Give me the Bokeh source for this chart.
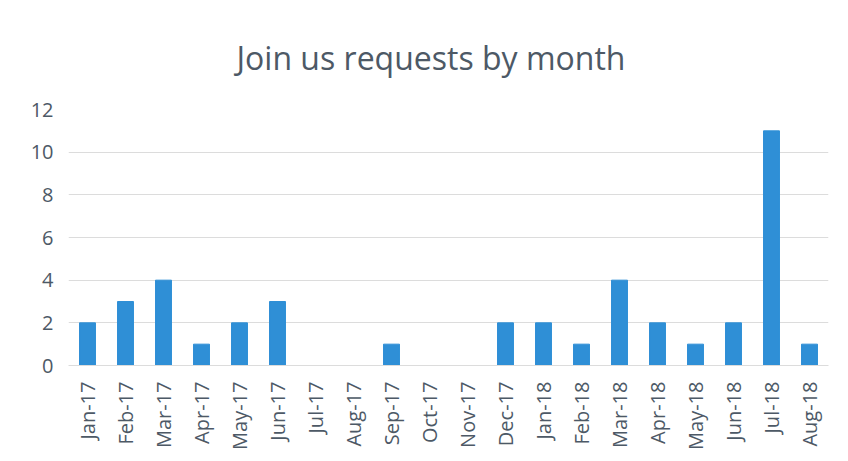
from bokeh.plotting import figure
from bokeh.models import Range1d, Title, FactorRange
from bokeh.embed import file_html
from bokeh.resources import INLINE
import math

months = ["Jan-17", "Feb-17", "Mar-17", "Apr-17", "May-17", "Jun-17", "Jul-17", "Aug-17",
          "Sep-17", "Oct-17", "Nov-17", "Dec-17", "Jan-18", "Feb-18", "Mar-18", "Apr-18",
          "May-18", "Jun-18", "Jul-18", "Aug-18"]
requests = [2, 3, 4, 1, 2, 3, 0, 0, 1, 0, 0, 2, 2, 1, 4, 2, 1, 2, 11, 1]
y_ticks = [0, 2, 4, 6, 8, 10, 12]

FONT = "Open Sans"
TXT = "#4D5966"

p = figure(x_range=FactorRange(*months, range_padding=0), y_range=Range1d(0, 12),
           width=832, height=453, output_backend="svg", toolbar_location=None,
           min_border_left=68, min_border_right=4, min_border_top=109, min_border_bottom=88)
p.title = None
p.add_layout(Title(text="Join us requests by month", align="left", text_font=FONT,
                   text_font_size="32px", text_font_style="normal", text_color=TXT,
                   standoff=62, offset=168), "above")

p.vbar(x=months, top=requests, width=0.42, color="#2F8FD6")

p.outline_line_color = None
p.xgrid.grid_line_color = None
p.ygrid.grid_line_color = "#DCDCDC"
p.ygrid.grid_line_width = 1
p.yaxis.ticker = y_ticks
p.yaxis.axis_line_color = None
p.yaxis.major_tick_line_color = None
p.yaxis.major_tick_out = 0
p.yaxis.major_tick_in = 0
p.yaxis.minor_tick_line_color = None
p.yaxis.major_label_standoff = 15
p.yaxis.major_label_text_font = FONT
p.yaxis.major_label_text_font_size = "20px"
p.yaxis.major_label_text_color = TXT

p.xaxis.axis_line_color = "#DCDCDC"
p.xaxis.major_tick_line_color = None
p.xaxis.minor_tick_line_color = None
p.xaxis.major_label_orientation = math.pi / 2
p.xaxis.major_label_standoff = 10
p.xaxis.major_label_text_font = FONT
p.xaxis.major_label_text_font_size = "20px"
p.xaxis.major_label_text_color = TXT

open("out.html", "w").write(file_html(p, INLINE))
